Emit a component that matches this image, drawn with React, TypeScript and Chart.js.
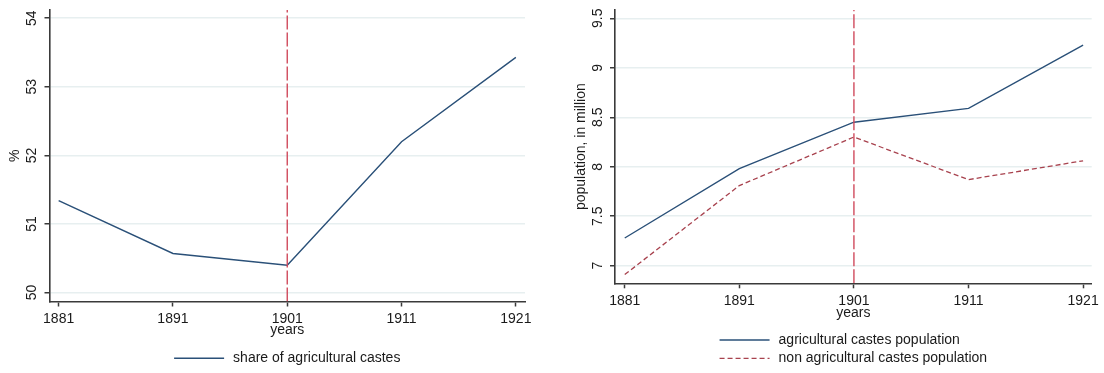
import React, { useEffect, useRef } from "react";
import { Chart, registerables } from "chart.js";

Chart.register(...registerables);

// ---------------- data ----------------
const years = [1881, 1891, 1901, 1911, 1921];
const yearTicks = [1881, 1891, 1901, 1911, 1921];
const shareAgriculturalCastes = [51.34, 50.57, 50.4, 52.2, 53.43];
const agriculturalCastesPopulation = [7.28, 7.98, 8.45, 8.59, 9.23];
const nonAgriculturalCastesPopulation = [6.91, 7.81, 8.3, 7.87, 8.06];
const shareTicks = [50, 51, 52, 53, 54];
const populationTicks = [7, 7.5, 8, 8.5, 9, 9.5];
const referenceYear = 1901;
const shareRange = [49.87, 54.12];
const populationRange = [6.822, 9.584];

// ---------------- style ----------------
const FONT = "'Liberation Sans', Arial, sans-serif";
const FS = 14;
const TEXT = "#1a1a1a";
const AXIS = "#3a3a3a";
const GRID = "#e7eff0";
const NAVY = "#2a5078";
const MAROON = "#a8424e";
const RED = "#d04a5c";

const rotatedYTicks = {
  id: "rotatedYTicks",
  afterDraw(chart: any, _args: any, opts: any) {
    const s = chart.scales.y;
    const ctx = chart.ctx;
    ctx.save();
    ctx.fillStyle = TEXT;
    ctx.font = `${FS}px ${FONT}`;
    ctx.textAlign = "center";
    ctx.textBaseline = "alphabetic";
    for (const t of s.ticks) {
      const py = s.getPixelForValue(t.value);
      ctx.save();
      ctx.translate(chart.chartArea.left - opts.offset, py);
      ctx.rotate(-Math.PI / 2);
      ctx.fillText(String(t.value), 0, 0);
      ctx.restore();
    }
    ctx.restore();
  },
};

const stataLegend = {
  id: "stataLegend",
  afterDraw(chart: any, _args: any, opts: any) {
    const items = chart.data.datasets.filter((d: any) => d.inLegend);
    const ctx = chart.ctx;
    ctx.save();
    ctx.font = `${FS}px ${FONT}`;
    const maxW = Math.max(...items.map((d: any) => ctx.measureText(d.label).width));
    const total = opts.sample + opts.gap + maxW;
    const ca = chart.chartArea;
    const x0 = (ca.left + ca.right) / 2 - total / 2;
    items.forEach((d: any, i: number) => {
      const y = opts.lastRowY - (items.length - 1 - i) * opts.rowGap;
      ctx.beginPath();
      ctx.setLineDash(d.borderDash || []);
      ctx.strokeStyle = d.borderColor;
      ctx.lineWidth = d.borderWidth;
      ctx.moveTo(x0, y);
      ctx.lineTo(x0 + opts.sample, y);
      ctx.stroke();
      ctx.setLineDash([]);
      ctx.fillStyle = TEXT;
      ctx.textAlign = "left";
      ctx.textBaseline = "middle";
      ctx.fillText(d.label, x0 + opts.sample + opts.gap, y);
    });
    ctx.restore();
  },
};

function series(values: number[]) {
  return years.map((x, i) => ({ x, y: values[i] }));
}

function makeConfig(p: any): any {
  const vline = {
    label: "ref",
    data: [
      { x: referenceYear, y: p.yMin },
      { x: referenceYear, y: p.yMax },
    ],
    borderColor: RED,
    borderWidth: 1.4,
    borderDash: [14, 3],
    pointRadius: 0,
    tension: 0,
  };
  return {
    type: "line",
    data: { datasets: [vline, ...p.datasets] },
    plugins: [rotatedYTicks, stataLegend],
    options: {
      responsive: false,
      devicePixelRatio: 1,
      animation: false,
      events: [],
      layout: { padding: { left: 0, right: p.padRight, top: 10, bottom: 0 } },
      plugins: {
        legend: { display: false },
        tooltip: { enabled: false },
        rotatedYTicks: { offset: 13.5 },
        stataLegend: { sample: 50, gap: 9, lastRowY: 358.3, rowGap: 18.3 },
      },
      scales: {
        x: {
          type: "linear",
          min: p.xMin,
          max: p.xMax,
          afterBuildTicks: (s: any) => {
            s.ticks = yearTicks.map((v) => ({ value: v }));
          },
          afterFit: (s: any) => {
            s.height = p.xHeight;
            s.paddingLeft = 0;
            s.paddingRight = 0;
          },
          ticks: {
            callback: (v: any) => String(v),
            color: TEXT,
            font: { family: FONT, size: FS },
            padding: 4.5,
            maxRotation: 0,
            autoSkip: false,
          },
          grid: {
            drawOnChartArea: false,
            drawTicks: true,
            tickLength: 5,
            tickColor: AXIS,
            tickWidth: 1.5,
          },
          border: { color: AXIS, width: 1.6 },
          title: {
            display: true,
            text: "years",
            color: TEXT,
            font: { family: FONT, size: FS },
            padding: { top: 0, bottom: p.xTitlePadBottom },
          },
        },
        y: {
          type: "linear",
          min: p.yMin,
          max: p.yMax,
          afterBuildTicks: (s: any) => {
            s.ticks = p.yTicks.map((v: number) => ({ value: v }));
          },
          afterFit: (s: any) => {
            s.width = p.yWidth;
            s.paddingTop = 0;
            s.paddingBottom = 0;
          },
          ticks: { display: false },
          grid: {
            color: GRID,
            lineWidth: 1.5,
            drawTicks: true,
            tickLength: 5,
            tickColor: AXIS,
            tickWidth: 1.5,
          },
          border: { color: AXIS, width: 1.6 },
          title: {
            display: true,
            text: p.yTitle,
            color: TEXT,
            font: { family: FONT, size: FS },
            padding: { top: p.yTitlePad, bottom: 0 },
          },
        },
      },
    },
  };
}

function leftConfig() {
  return makeConfig({
    datasets: [
      {
        label: "share of agricultural castes",
        inLegend: true,
        data: series(shareAgriculturalCastes),
        borderColor: NAVY,
        borderWidth: 1.4,
        pointRadius: 0,
        tension: 0,
      },
    ],
    yMin: shareRange[0],
    yMax: shareRange[1],
    xMin: 1880.2,
    xMax: 1921.8,
    yTicks: shareTicks,
    yWidth: 49.5,
    padRight: 27,
    xHeight: 373 - 301.5,
    yTitle: "%",
    yTitlePad: 7.1,
    xTitlePadBottom: 34.4,
  });
}

function rightConfig() {
  return makeConfig({
    datasets: [
      {
        label: "agricultural castes population",
        inLegend: true,
        data: series(agriculturalCastesPopulation),
        borderColor: NAVY,
        borderWidth: 1.4,
        pointRadius: 0,
        tension: 0,
      },
      {
        label: "non agricultural castes population",
        inLegend: true,
        data: series(nonAgriculturalCastesPopulation),
        borderColor: MAROON,
        borderWidth: 1.3,
        borderDash: [5, 3],
        pointRadius: 0,
        tension: 0,
      },
    ],
    yMin: populationRange[0],
    yMax: populationRange[1],
    xMin: 1880.15,
    xMax: 1921.75,
    yTicks: populationTicks,
    yWidth: 63,
    padRight: 12.3,
    xHeight: 373 - 283.3,
    yTitle: "population, in million",
    yTitlePad: 21.2,
    xTitlePadBottom: 51.8,
  });
}

export default function App() {
  const leftRef = useRef<HTMLCanvasElement>(null);
  const rightRef = useRef<HTMLCanvasElement>(null);
  useEffect(() => {
    const c1 = new Chart(leftRef.current as HTMLCanvasElement, leftConfig());
    const c2 = new Chart(rightRef.current as HTMLCanvasElement, rightConfig());
    return () => {
      c1.destroy();
      c2.destroy();
    };
  }, []);
  return (
    <div
      style={{
        position: "absolute",
        left: 0,
        top: 0,
        width: 1104,
        height: 373,
        background: "#ffffff",
        overflow: "hidden",
      }}
    >
      <canvas
        ref={leftRef}
        width={552}
        height={373}
        style={{ position: "absolute", left: 0, top: 0, width: 552, height: 373 }}
      />
      <canvas
        ref={rightRef}
        width={552}
        height={373}
        style={{ position: "absolute", left: 552, top: 0, width: 552, height: 373 }}
      />
    </div>
  );
}
